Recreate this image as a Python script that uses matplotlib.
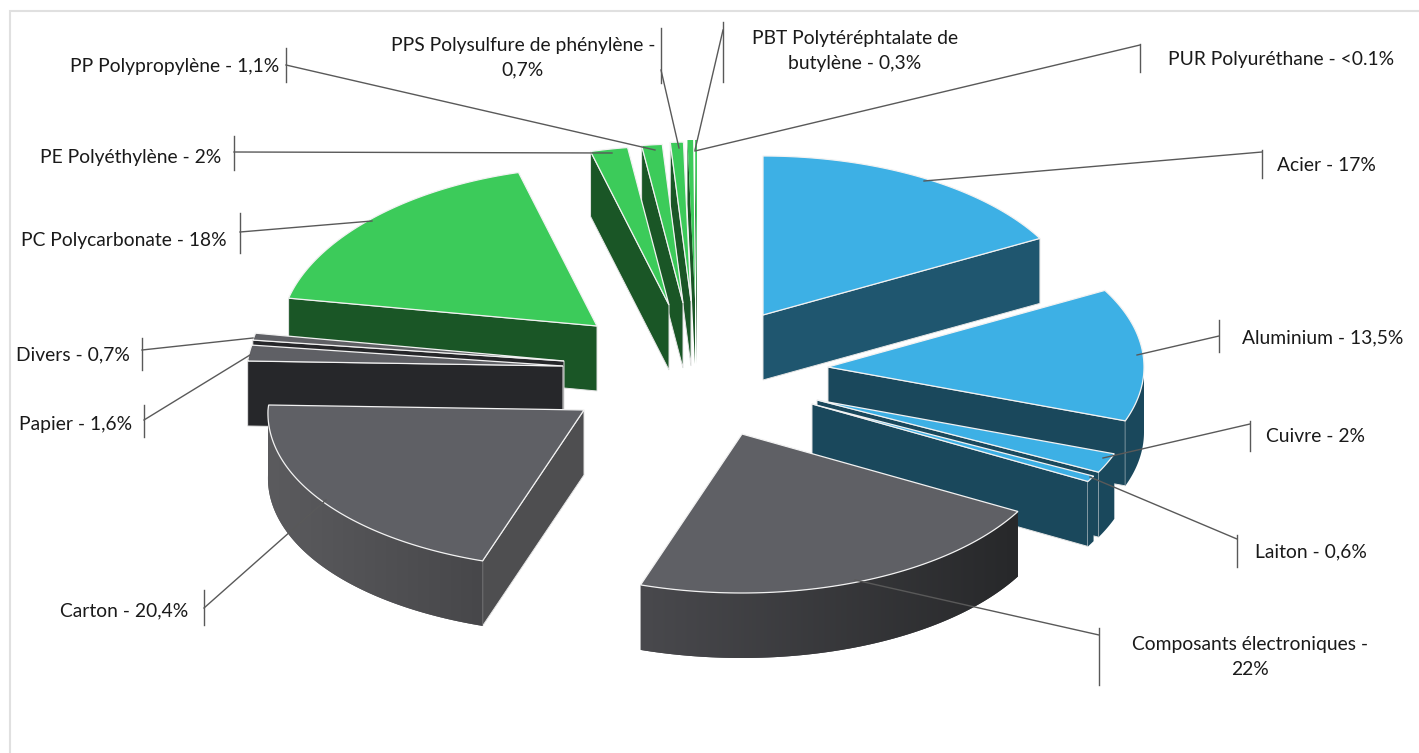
import numpy as np
import matplotlib
matplotlib.use("Agg")
import matplotlib.pyplot as plt
from matplotlib.colors import LinearSegmentedColormap

# ---------- data ----------
categories = ["Acier", "Aluminium", "Cuivre", "Laiton", "Composants électroniques", "Carton",
              "Papier", "Divers", "PC Polycarbonate", "PE Polyéthylène", "PP Polypropylène",
              "PPS Polysulfure de phénylène", "PBT Polytéréphtalate de butylène", "PUR Polyuréthane"]
values = [17, 13.5, 2, 0.6, 22, 20.4, 1.6, 0.7, 18, 2, 1.1, 0.7, 0.3, 0.1]
labels = ["Acier - 17%", "Aluminium - 13,5%", "Cuivre - 2%", "Laiton - 0,6%",
          "Composants électroniques -\n22%", "Carton - 20,4%", "Papier - 1,6%", "Divers - 0,7%",
          "PC Polycarbonate - 18%", "PE Polyéthylène - 2%", "PP Polypropylène - 1,1%",
          "PPS Polysulfure de phénylène -\n0,7%", "PBT Polytéréphtalate de\nbutylène - 0,3%",
          "PUR Polyuréthane - <0.1%"]

# ---------- layout / style ----------
W, H = 1419, 753
CENTER = (690, 375)
A, B, DEPTH = 316, 159, 65
K_BACK, K_FRONT = 0.05, 0.02      # slight perspective on the left half
explode_dx = [73, 138, 127, 122, 52, -106, -127, -126, -93, -21, -7, 1, 5, 7]
explode_dy = [-60, -8, 25, 29, 59, 35, -9, -14, -49, -70, -72, -74, -76, -76]
BLUE, GREY, GREEN = "#3DB0E5", "#5F6065", "#3CCB5A"
top_col = [BLUE] * 4 + [GREY] * 4 + [GREEN] * 6
face_col = ["#1F566F", "#1A485C", "#1A485C", "#1A485C", "#26272A", "#4E4E50",
            "#26272A", "#26272A"] + ["#1A5626"] * 6
arc_col = [("#1F566F", "#1F566F"), ("#1A485C", "#1A485C"), ("#1A485C", "#1A485C"),
           ("#1A485C", "#1A485C"), ("#49494D", "#27282A"), ("#5B5B5E", "#47474A"),
           ("#26272A", "#26272A"), ("#26272A", "#26272A")] + [("#1A5626", "#1A5626")] * 6
paint_order = [13, 12, 11, 10, 9, 8, 7, 6, 5, 0, 1, 2, 3, 4]
FONT = "Lato"
FS = 13.85
LINE = "#595959"

# leader: tick x, tick y0, tick y1, attach y on tick, end x, end y
leaders = [
    (1262, 150, 178, 152, 924, 181), (1219, 320, 352, 336, 1137, 355),
    (1250, 421, 451, 424, 1103, 458), (1237, 535, 567, 539, 1090, 477),
    (1099, 628, 685, 635, 855, 580), (204, 590, 625, 608, 326, 500),
    (144, 405, 437, 420, 250, 355), (142, 338, 370, 350, 253, 338),
    (240, 213, 253, 232, 372, 221), (234, 136, 170, 152, 612, 153),
    (286, 48, 82, 65, 655, 150), (661, 28, 83, 70, 679, 148),
    (723, 22, 82, 30, 695, 150), (1140, 44, 72, 45, 695, 151),
]
label_pos = [(1326, 165), (1323, 338), (1315, 436), (1311, 552), (1250, 657), (124, 611),
             (76, 424), (73, 355), (124, 240), (131, 157), (175, 66), (523, 58), (855, 51),
             (1281, 59)]

# ---------- drawing ----------
fig = plt.figure(figsize=(W / 100, H / 100), dpi=100, facecolor="white")
ax = fig.add_axes([0, 0, 1, 1])
ax.plot([10, 10, W], [H, 11, 11], color="#E0E0E0", lw=1.5, solid_joinstyle="miter")


def project(apex, theta):
    s, c = np.sin(theta), np.cos(theta)
    factor = np.where(s >= 0, 1.0, np.where(c > 0, 1 - K_BACK * c, 1 - K_FRONT * c))
    return apex[0] + A * s * factor, apex[1] - B * c


edges = np.radians(np.concatenate([[0], np.cumsum(values)]) * 3.6)
for i in paint_order:
    t0, t1 = edges[i], edges[i + 1]
    apex = (CENTER[0] + explode_dx[i], CENTER[1] + explode_dy[i])
    thin = values[i] < 0.5
    face_ec = "none" if thin else "#E4E4E4"
    # radial cut faces
    for t, visible in ((t1, np.sin(t1) > 0), (t0, np.sin(t0) < 0)):
        if visible:
            x, y = project(apex, t)
            ax.fill([apex[0], x, x, apex[0]], [apex[1], y, y + DEPTH, apex[1] + DEPTH],
                    fc=face_col[i], ec=face_ec, lw=0.7, zorder=2)
    # outer rim, visible on the front half only
    lo, hi = max(t0, np.pi / 2), min(t1, 3 * np.pi / 2)
    if hi > lo:
        th = np.linspace(lo, hi, 80)
        xs, ys = project(apex, th)
        px = np.r_[xs, xs[::-1]]
        py = np.r_[ys, ys[::-1] + DEPTH]
        rim = ax.fill(px, py, fc=arc_col[i][0], ec="none", zorder=2)[0]
        if arc_col[i][0] != arc_col[i][1]:
            cmap = LinearSegmentedColormap.from_list("rim", list(arc_col[i]))
            im = ax.imshow(np.linspace(0, 1, 256)[None, :], cmap=cmap, aspect="auto",
                           extent=(px.min(), px.max(), py.max(), py.min()), zorder=2.0,
                           interpolation="bilinear")
            im.set_clip_path(rim)
    # top
    th = np.linspace(t0, t1, 80)
    xs, ys = project(apex, th)
    ax.fill(np.r_[apex[0], xs], np.r_[apex[1], ys], fc=top_col[i],
            ec="none" if thin else "#F2F2F2", lw=0.9, joinstyle="miter", zorder=2)

for (tx, y0, y1, ya, ex, ey) in leaders:
    ax.plot([tx, tx], [y0, y1], color=LINE, lw=1.0, zorder=4)
    ax.plot([tx, ex], [ya, ey], color=LINE, lw=1.0, zorder=4)

for lab, (x, y) in zip(labels, label_pos):
    ax.text(x, y, lab, family=FONT, fontsize=FS, color="#1A1A1A", ha="center", va="center",
            linespacing=1.55, multialignment="center", zorder=5)

ax.set_xlim(0, W)
ax.set_ylim(H, 0)
ax.axis("off")
fig.savefig("out.png", dpi=100, facecolor="white")
